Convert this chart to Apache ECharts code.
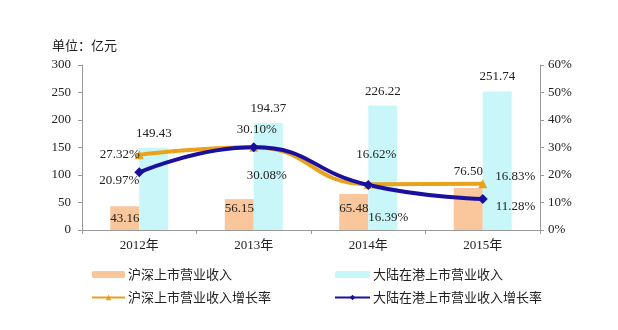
<!DOCTYPE html>
<html>
<head>
<meta charset="utf-8">
<script src="https://cdn.jsdelivr.net/npm/echarts@6/dist/echarts.min.js"></script>
<style>html,body{margin:0;padding:0;background:#fff}#c{width:618px;height:330px}</style>
</head>
<body>
<div id="c"></div>
<script>
var categories = ['2012年', '2013年', '2014年', '2015年'];
var hsRevenue = [43.16, 56.15, 65.48, 76.50];
var hkRevenue = [149.43, 194.37, 226.22, 251.74];
var hsGrowth = [27.32, 30.10, 16.62, 16.83];
var hkGrowth = [20.97, 30.08, 16.39, 11.28];
var leftTicks = [0, 300, 50];
var rightTicks = [0, 60, 10];

var serif = "'Liberation Serif', 'Times New Roman', serif";
var cjk = "'Noto Sans CJK SC', sans-serif";
var numFont = "'Liberation Serif', 'Noto Sans CJK SC', serif";
var txt = '#222';

var hsBarLabel = [
  {position: 'inside'},
  {position: 'insideTop', distance: 3},
  {position: 'insideTop', distance: 8},
  {position: 'top', distance: 10}
];
var hsLineLabel = [
  {position: 'left', offset: [10, 0]},
  {position: 'top', offset: [3, -2]},
  {position: 'top', offset: [8, -14]},
  {position: 'right', offset: [3, -7]}
];
var hkLineLabel = [
  {position: 'left', offset: [10, 8]},
  {position: 'bottom', offset: [13, 12]},
  {position: 'bottom', offset: [20, 16]},
  {position: 'right', offset: [3, 8]}
];

function withLabels(vals, cfg, fmt) {
  return vals.map(function (v, i) {
    var l = Object.assign({show: true, color: txt, fontFamily: serif, fontSize: 13, formatter: fmt}, cfg[i]);
    return {value: v, label: l};
  });
}

var chart = echarts.init(document.getElementById('c'), null, {renderer: 'canvas'});
chart.setOption({
  animation: false,
  backgroundColor: '#fff',
  title: {text: '单位：亿元', left: 47, top: 34, textStyle: {fontFamily: cjk, fontSize: 13, fontWeight: 'normal', color: txt}},
  grid: {left: 82, right: 78, top: 65, bottom: 100},
  legend: [
    {
      left: 86, top: 263, orient: 'vertical', itemGap: 10, itemWidth: 33, itemHeight: 7, itemGap: 10,
      textStyle: {fontFamily: cjk, fontSize: 13, color: txt, padding: [0, 0, 0, -2]},
      data: ['沪深上市营业收入', '沪深上市营业收入增长率']
    },
    {
      left: 329, top: 263, orient: 'vertical', itemGap: 10, itemWidth: 35, itemHeight: 7,
      textStyle: {fontFamily: cjk, fontSize: 13, color: txt, padding: [0, 0, 0, -2]},
      data: ['大陆在港上市营业收入', '大陆在港上市营业收入增长率']
    }
  ],
  xAxis: {
    type: 'category', data: categories,
    axisLine: {lineStyle: {color: '#999'}},
    axisTick: {show: true, length: 4, lineStyle: {color: '#999'}},
    axisLabel: {fontFamily: numFont, fontSize: 13, color: txt, margin: 9}
  },
  yAxis: [
    {
      type: 'value', min: leftTicks[0], max: leftTicks[1], interval: leftTicks[2],
      splitLine: {show: false},
      axisLine: {show: true, lineStyle: {color: '#999'}},
      axisTick: {show: true, length: 4, lineStyle: {color: '#999'}},
      axisLabel: {fontFamily: serif, fontSize: 13, color: txt, margin: 11}
    },
    {
      type: 'value', min: rightTicks[0], max: rightTicks[1], interval: rightTicks[2],
      splitLine: {show: false},
      axisLine: {show: true, lineStyle: {color: '#999'}},
      axisTick: {show: true, length: 4, lineStyle: {color: '#999'}},
      axisLabel: {fontFamily: serif, fontSize: 13, color: txt, margin: 8, formatter: '{value}%'}
    }
  ],
  series: [
    {
      name: '沪深上市营业收入', type: 'bar', yAxisIndex: 0, barWidth: 29, barGap: '0%',
      itemStyle: {color: '#F9C79B'},
      data: withLabels(hsRevenue, hsBarLabel, function (p) { return p.value.toFixed(2); })
    },
    {
      name: '大陆在港上市营业收入', type: 'bar', yAxisIndex: 0, barWidth: 29, barGap: '0%',
      itemStyle: {color: '#C9F6F8'},
      label: {show: true, position: 'top', distance: 8, color: txt, fontFamily: serif, fontSize: 13,
        formatter: function (p) { return p.value.toFixed(2); }},
      data: hkRevenue
    },
    {
      name: '沪深上市营业收入增长率', type: 'line', yAxisIndex: 1, smooth: true,
      symbol: 'triangle', symbolSize: 9,
      lineStyle: {color: '#E8A21C', width: 4},
      itemStyle: {color: '#E8A21C'},
      data: withLabels(hsGrowth, hsLineLabel, function (p) { return p.value.toFixed(2) + '%'; })
    },
    {
      name: '大陆在港上市营业收入增长率', type: 'line', yAxisIndex: 1, smooth: true,
      symbol: 'diamond', symbolSize: 10,
      lineStyle: {color: '#1B0F9E', width: 4},
      itemStyle: {color: '#1B0F9E'},
      data: withLabels(hkGrowth, hkLineLabel, function (p) { return p.value.toFixed(2) + '%'; })
    }
  ]
});
</script>
</body>
</html>
